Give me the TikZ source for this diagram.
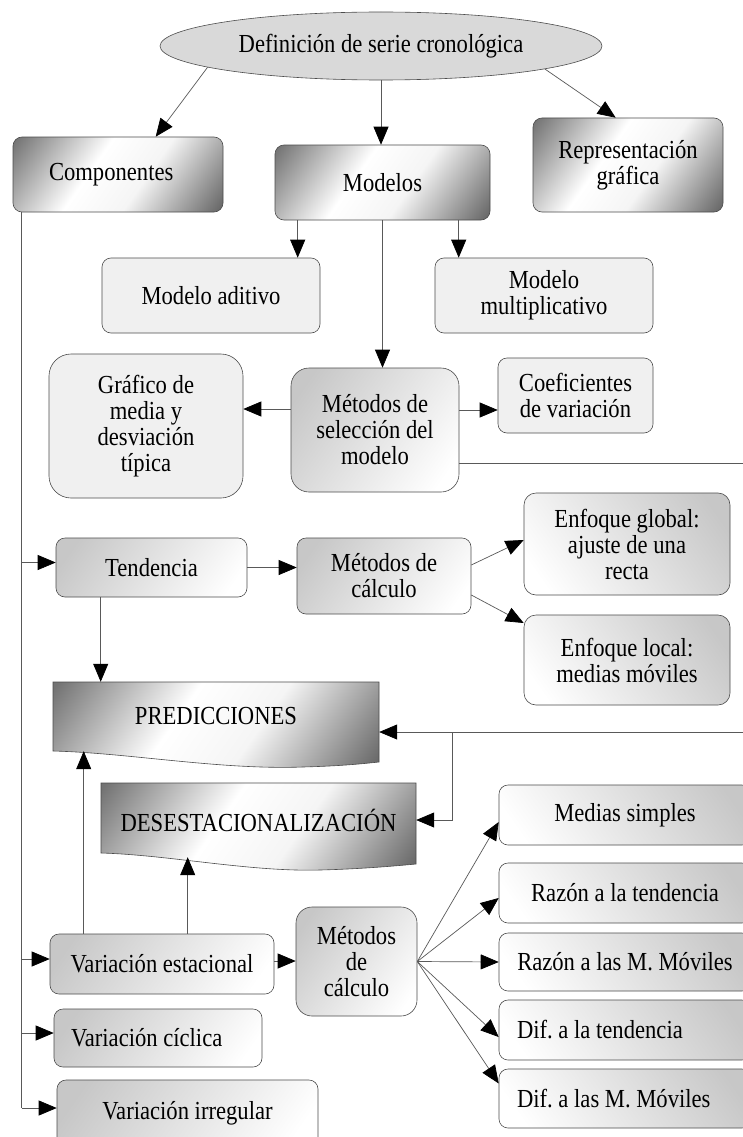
\documentclass[tikz,border=0pt]{standalone}
\usepackage{fontspec}
\setmainfont{Liberation Serif}[FakeStretch=0.87]
\usetikzlibrary{shapes.geometric,arrows.meta,calc}
\pgfdeclarehorizontalshading{darkgrad}{100bp}{color(0bp)=(black!58); color(16bp)=(black!55); color(42bp)=(white); color(58bp)=(black!4); color(84bp)=(black!60); color(100bp)=(black!60)}
\pgfdeclarehorizontalshading{midgrad}{100bp}{color(0bp)=(black!22); color(22bp)=(black!22); color(78bp)=(white); color(100bp)=(white)}
\frenchspacing
\begin{document}
\begin{tikzpicture}[x=1pt,y=-1pt,
  txt/.style={font=\frenchspacing\fontsize{26}{26}\selectfont, align=center, text=black},
  box/.style={txt, draw=black!70, line width=0.6pt, rounded corners=9pt, inner sep=0pt},
  dark/.style={box, shading=darkgrad, shading angle=-35},
  mid/.style={box, shading=midgrad, shading angle=-35},
  midr/.style={box, shading=midgrad, shading angle=-145},
  light/.style={box, fill=black!6},
  shapeline/.style={draw=black!70, line width=0.6pt, shading=darkgrad, shading angle=-35},
  conn/.style={draw=black!65, line width=0.7pt},
  arr/.style={conn, -{Triangle[length=18pt,width=15pt,color=black]}},
  lft/.style={align=flush left, inner xsep=#1}
]
\useasboundingbox (0,0) rectangle (743,1137);
\fill[white] (0,0) rectangle (743,1137);
\clip (0,0) rectangle (743,1137);

% ---------- top ----------
\node[txt, ellipse, draw=black!70, line width=0.6pt, fill=black!15, inner sep=0pt,
      minimum width=442, minimum height=68] (def) at (381,46) {Definición de serie cronológica};
\node[dark, lft=36, text width=138, minimum width=210, minimum height=75] (comp) at (118,174.5) {Componentes};
\node[dark, minimum width=215, minimum height=75] (mod) at (382.5,182.5) {Modelos};
\node[dark, minimum width=190, minimum height=94] (rep) at (628,165) {Representación\\gráfica};

\node[light, minimum width=218, minimum height=75] (adit) at (211,295.5) {Modelo aditivo};
\node[light, minimum width=218, minimum height=75] (mult) at (544,295.5) {Modelo\\multiplicativo};

\node[light, rounded corners=22pt, minimum width=194, minimum height=144] (graf) at (146,426) {Gráfico de\\media y\\desviación\\típica};
\node[mid, rounded corners=18pt, minimum width=168, minimum height=124] (msel) at (375,430) {Métodos de\\selección del\\modelo};
\node[light, minimum width=155, minimum height=75] (coef) at (575.5,395.5) {Coeficientes\\de variación};

\node[mid, minimum width=191, minimum height=59] (tend) at (151.5,567.5) {Tendencia};
\node[mid, minimum width=174, minimum height=76] (mcalc1) at (384,576) {Métodos de\\cálculo};
\node[midr, rounded corners=12pt, minimum width=206, minimum height=102] (eglob) at (627,544) {Enfoque global:\\ajuste de una\\recta};
\node[midr, rounded corners=12pt, minimum width=206, minimum height=90] (eloc) at (627,660) {Enfoque local:\\medias móviles};

% ---------- document shapes ----------
\path[shapeline] (53,682) -- (379,682) -- (379,762)
  .. controls (360,764) and (340,766) .. (303,767)
  .. controls (220,770) and (130,753) .. (53,751) -- cycle;
\node[txt, inner sep=0pt, minimum width=326, minimum height=69] (pred) at (216,716.5) {PREDICCIONES};

\path[shapeline] (101,783) -- (416,783) -- (416,864)
  .. controls (395,866) and (360,869) .. (320,870)
  .. controls (250,872) and (170,855) .. (101,853) -- cycle;
\node[txt, inner sep=0pt, minimum width=315, minimum height=74] (dese) at (258.5,820) {DESESTACIONALIZACIÓN};

% ---------- bottom ----------
\node[mid, minimum width=224, minimum height=60] (vest) at (162,964) {Variación estacional};
\node[mid, rounded corners=16pt, minimum width=121, minimum height=109] (mcalc2) at (356.5,961.5) {Métodos\\de\\cálculo};
\node[mid, lft=17, text width=174, minimum width=208, minimum height=58] (vcic) at (158,1038) {Variación cíclica};
\node[mid, minimum width=261, minimum height=66] (virr) at (187.5,1113) {Variación irregular};

\node[midr, minimum width=252, minimum height=60] (ms) at (625,815) {Medias simples};
\node[midr, minimum width=252, minimum height=60] (rt) at (625,893) {Razón a la tendencia};
\node[midr, minimum width=252, minimum height=58] (rmm) at (625,962) {Razón a las M. Móviles};
\node[midr, lft=18, text width=216, minimum width=252, minimum height=60] (dt) at (625,1030) {Dif. a la tendencia};
\node[midr, lft=18, text width=216, minimum width=252, minimum height=59] (dmm) at (625,1098.5) {Dif. a las M. Móviles};

% ---------- connectors ----------
\draw[arr] (def.187.6) -- ([xshift=143pt]comp.north west);
\draw[arr] (def.south) -- (def.south |- mod.north);
\draw[arr] (def.352.4) -- ([xshift=83pt]rep.north west);

\coordinate (m1) at ([xshift=23pt]mod.south west);
\coordinate (m3) at ([xshift=184pt]mod.south west);
\draw[arr] (m1) -- (m1 |- adit.north);
\draw[arr] (m3) -- (m3 |- mult.north);
\draw[arr] (mod.south) -- (mod.south |- msel.north);

\coordinate (s1) at ([yshift=21pt]msel.west);
\coordinate (s2) at ([yshift=20pt]msel.east);
\coordinate (s3) at ([yshift=-33pt]msel.east);
\coordinate (rOut1) at (760,463);
\draw[arr] (s1) -- (s1 -| graf.east);
\draw[arr] (s2) -- (s2 -| coef.west);
\draw[conn] (s3) -- (rOut1);

\coordinate (rOut2) at (760,732);
\coordinate (br) at (452,732);
\draw[arr] (rOut2) -- (rOut2 -| pred.east);
\draw[arr] (br) |- (dese.east);

% trunk from Componentes
\coordinate (c0) at ([xshift=9pt]comp.south west);
\coordinate (te) at ([yshift=5pt]tend.west);
\coordinate (ve) at ([yshift=5pt]vest.west);
\coordinate (vc) at ([yshift=5pt]vcic.west);
\coordinate (vi) at ([yshift=5pt]virr.west);
\draw[conn] (c0) -- (c0 |- vi);
\draw[arr] (c0 |- te) -- (te);
\draw[arr] (c0 |- ve) -- (ve);
\draw[arr] (c0 |- vc) -- (vc);
\draw[arr] (c0 |- vi) -- (vi);

\coordinate (t1) at ([xshift=45pt]tend.south west);
\draw[arr] (t1) -- (t1 |- pred.north);
\draw[arr] (tend.east) -- (tend.east -| mcalc1.west);
\draw[arr] ([yshift=11pt]mcalc1.east) -- ([yshift=4pt]eglob.west);
\draw[arr] ([yshift=-19pt]mcalc1.east) -- ([yshift=37pt]eloc.west);

\coordinate (e1) at ([xshift=34pt]vest.north west);
\coordinate (e2) at ([xshift=138pt]vest.north west);
\draw[arr] (e1) -- (e1 |- pred.south);
\draw[arr] (e2) -- (e2 |- dese.south);
\coordinate (ve2) at ([yshift=3pt]vest.east);
\draw[arr] (ve2) -- (ve2 -| mcalc2.west);

\draw[arr] (mcalc2.east) -- ([yshift=-7pt]ms.west);
\draw[arr] (mcalc2.east) -- ([yshift=-5pt]rt.west);
\draw[arr] (mcalc2.east) -- (rmm.west);
\draw[arr] (mcalc2.east) -- ([yshift=-7pt]dt.west);
\draw[arr] (mcalc2.east) -- ([yshift=15pt]dmm.west);
\end{tikzpicture}
\end{document}
